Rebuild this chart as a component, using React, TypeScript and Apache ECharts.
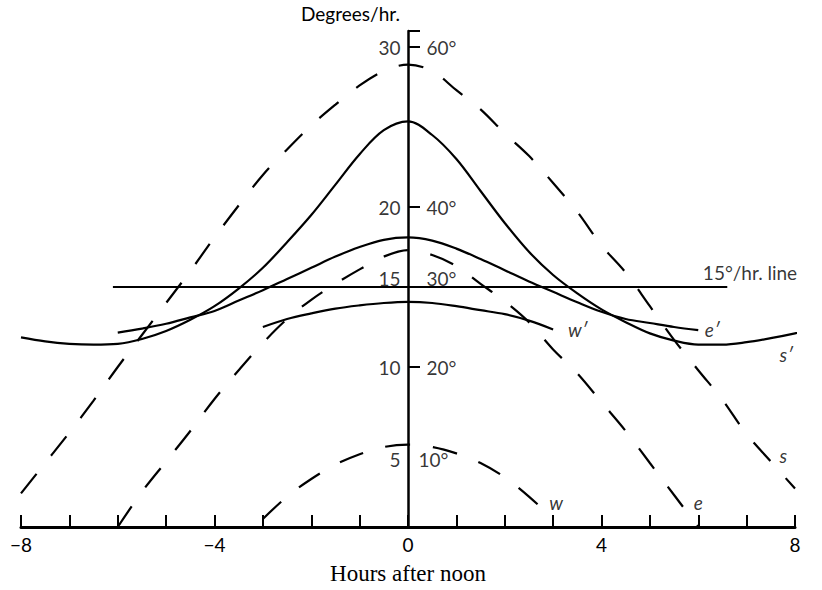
import React, { useEffect, useRef } from "react";
import * as echarts from "echarts";

// Hours after noon (x) for each curve
const sHours = [-8, -7.5, -7, -6.5, -6, -5.5, -5, -4.5, -4, -3.5, -3, -2.5, -2, -1.5, -1, -0.5, 0, 0.5, 1, 1.5, 2, 2.5, 3, 3.5, 4, 4.5, 5, 5.5, 6, 6.5, 7, 7.5, 8];
const eHours = [-6, -5.5, -5, -4.5, -4, -3.5, -3, -2.5, -2, -1.5, -1, -0.5, 0, 0.5, 1, 1.5, 2, 2.5, 3, 3.5, 4, 4.5, 5, 5.5, 6];
const wHours = [-3, -2.5, -2, -1.5, -1, -0.5, 0, 0.5, 1, 1.5, 2, 2.5, 3];
const sPrimeHours = [-8, -7.5, -7, -6.5, -6, -5.5, -5, -4.5, -4, -3.5, -3, -2.5, -2, -1.5, -1, -0.5, 0, 0.5, 1, 1.5, 2, 2.5, 3, 3.5, 4, 4.5, 5, 5.5, 6, 6.5, 7, 7.5, 8, 8.55];

// Dashed curves (altitude / 2, read on the rate scale)
const sDashed = [2.1, 4.0, 5.9, 7.9, 10.0, 12.0, 14.0, 16.0, 18.1, 20.1, 22.0, 23.6, 25.1, 26.4, 27.6, 28.5, 28.9, 28.5, 27.3, 26.1, 24.6, 23.2, 21.5, 19.7, 17.6, 15.9, 13.8, 11.7, 9.8, 7.95, 5.8, 4.1, 2.4];
const eDashed = [0, 2.2, 4.1, 6.0, 8.0, 9.8, 11.5, 13.0, 14.2, 15.2, 16.1, 16.9, 17.3, 17.0, 16.3, 15.2, 14.1, 12.8, 11.1, 9.6, 7.8, 6.0, 4.0, 2.0, 0];
const wDashed = [0.5, 1.9, 3.0, 3.9, 4.55, 5.0, 5.15, 5.0, 4.6, 4.0, 3.1, 1.9, 0.5];

// Solid curves (degrees/hr.)
const sPrime = [11.85, 11.6, 11.45, 11.4, 11.45, 11.75, 12.25, 12.95, 13.8, 14.9, 16.2, 17.8, 19.5, 21.4, 23.3, 24.8, 25.35, 24.5, 23.0, 21.0, 19.0, 17.2, 15.75, 14.6, 13.6, 12.8, 12.1, 11.65, 11.4, 11.4, 11.55, 11.8, 12.1, 12.5];
const ePrime = [12.15, 12.4, 12.7, 13.1, 13.5, 14.15, 14.8, 15.5, 16.2, 16.9, 17.5, 17.95, 18.1, 17.9, 17.4, 16.75, 16.05, 15.35, 14.7, 14.05, 13.45, 13.0, 12.75, 12.5, 12.3];
const wPrime = [12.5, 13.0, 13.35, 13.65, 13.85, 14.0, 14.07, 14.0, 13.8, 13.55, 13.3, 12.9, 12.35];

// 15°/hr. line
const lineHours = [-6.1, 6.6];
const lineRate = [15, 15];

// Axis tick labels
const rateTicks = [30, 20, 15, 10, 5];
const rateLabels = ["30", "20", "15", "10", "5"];
const altitudeLabels = ["60°", "40°", "30°", "20°", "10°"];

// Curve annotations
const curveNames = ["s", "e", "w", "s′", "e′", "w′", "15°/hr. line"];
const curveNameX = [7.76, 6.0, 3.06, 7.82, 6.29, 3.51, 7.07];
const curveNameY = [4.46, 1.55, 1.55, 10.79, 12.34, 12.34, 15.93];

const SANS = "Lato, 'DejaVu Sans', sans-serif";
const SERIF = "'Liberation Serif', 'DejaVu Serif', serif";

function zip(xs: number[], ys: number[]) {
  return xs.map((x, i) => [x, ys[i]]);
}

export default function App() {
  const ref = useRef<HTMLDivElement>(null);
  useEffect(() => {
    if (!ref.current) return;
    const chart = echarts.init(ref.current, undefined, { renderer: "svg" });
    const dash = [25, 23];
    const solid = (name: string, xs: number[], ys: number[]) => ({
      type: "line",
      name,
      data: zip(xs, ys),
      smooth: 0.35,
      symbol: "none",
      clip: false,
      silent: true,
      lineStyle: { color: "#000", width: 2.2 },
    });
    const dashed = (name: string, xs: number[], ys: number[]) => ({
      type: "line",
      name,
      data: zip(xs, ys),
      smooth: 0.35,
      symbol: "none",
      clip: false,
      silent: true,
      lineStyle: { color: "#000", width: 2.2, type: dash, dashOffset: 0 },
    });
    const labelShift: Record<number, number> = { 15: -9, 5: 12 };
    chart.setOption({
      animation: false,
      backgroundColor: "#fff",
      grid: { left: 21, right: 27, top: 31, bottom: 59 },
      xAxis: {
        type: "value",
        min: -8,
        max: 8,
        interval: 1,
        name: "Hours after noon",
        nameLocation: "middle",
        nameGap: 35,
        nameTextStyle: { fontFamily: SERIF, fontSize: 23, color: "#000" },
        axisLine: { onZero: false, lineStyle: { color: "#000", width: 3 } },
        axisTick: { inside: true, length: 12, lineStyle: { color: "#000", width: 2 } },
        axisLabel: {
          margin: 8,
          fontFamily: SANS,
          fontSize: 19,
          color: "#000",
          formatter: (v: number) => (v % 4 === 0 ? (v < 0 ? "−" + Math.abs(v) : String(v)) : ""),
        },
        splitLine: { show: false },
      },
      yAxis: {
        type: "value",
        min: 0,
        max: 31,
        interval: 10,
        axisLine: { show: true, onZero: true, lineStyle: { color: "#000", width: 2.5 } },
        axisTick: { show: true, inside: true, length: 12, lineStyle: { color: "#000", width: 2 } },
        axisLabel: { show: false },
        splitLine: { show: false },
      },
      graphic: [
        {
          type: "text",
          left: 301,
          top: 4,
          style: { text: "Degrees/hr.", fontFamily: SANS, fontSize: 19, fill: "#000" },
        },
      ],
      series: [
        dashed("s", sHours, sDashed),
        dashed("e", eHours, eDashed),
        dashed("w", wHours, wDashed),
        solid("s′", sPrimeHours, sPrime),
        solid("e′", eHours, ePrime),
        solid("w′", wHours, wPrime),
        {
          type: "line",
          name: "15°/hr. line",
          data: zip(lineHours, lineRate),
          symbol: "none",
          silent: true,
          lineStyle: { color: "#000", width: 2.2 },
        },
        {
          type: "scatter",
          silent: true,
          symbolSize: 1,
          itemStyle: { color: "rgba(0,0,0,0)" },
          data: rateTicks.map((v, i) => ({
            value: [0, v],
            label: {
              show: true,
              position: "left",
              distance: 7,
              offset: [0, labelShift[v] || 0],
              formatter: rateLabels[i],
              fontFamily: SANS,
              fontSize: 19,
              color: "#000",
            },
          })),
        },
        {
          type: "scatter",
          silent: true,
          symbolSize: 1,
          itemStyle: { color: "rgba(0,0,0,0)" },
          data: rateTicks.map((v, i) => ({
            value: [0, v],
            label: {
              show: true,
              position: "right",
              distance: v === 5 ? 10 : 18,
              offset: [0, labelShift[v] || 0],
              formatter: altitudeLabels[i],
              fontFamily: SANS,
              fontSize: 19,
              color: "#000",
            },
          })),
        },
        {
          type: "scatter",
          silent: true,
          symbolSize: 1,
          itemStyle: { color: "rgba(0,0,0,0)" },
          data: curveNames.map((n, i) => ({
            value: [curveNameX[i], curveNameY[i]],
            label: {
              show: true,
              position: "inside",
              formatter: n,
              fontFamily: SANS,
              fontStyle: i === 6 ? "normal" : "italic",
              fontSize: i === 6 ? 19 : 19,
              color: "#000",
            },
          })),
        },
      ],
    });
    return () => chart.dispose();
  }, []);
  return <div ref={ref} style={{ position: "fixed", left: 0, top: 0, width: 822, height: 590, background: "#fff" }} />;
}
